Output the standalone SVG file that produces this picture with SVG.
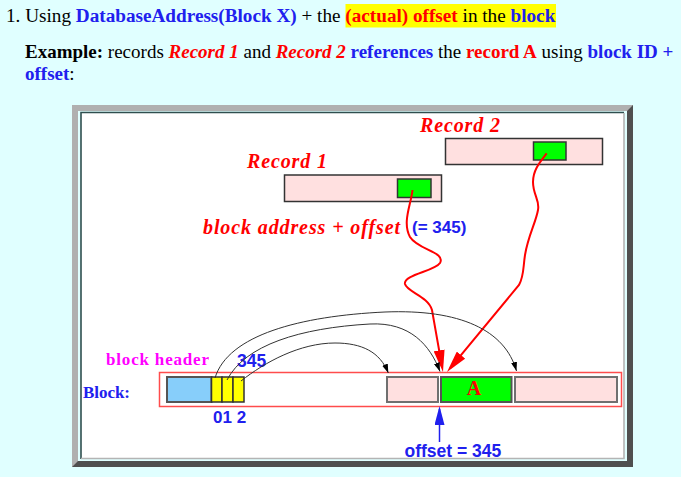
<svg xmlns="http://www.w3.org/2000/svg" width="681" height="477" viewBox="0 0 681 477">
<style>
.serif{font-family:"Liberation Serif","Times New Roman",serif}
.sans{font-family:"Liberation Sans",Arial,sans-serif;font-weight:bold}
.b{font-weight:bold}
.red{fill:#ff0000}
.blue{fill:#2020ee}
.rec{font-family:"Liberation Serif",serif;font-weight:bold;font-style:italic;fill:#ff0000;font-size:20px}
.cell{stroke:#555555;stroke-width:2}
.pink{fill:#ffe0e0}
.green{fill:#00ff00}
.rl{fill:none;stroke:#ff0000;stroke-width:2}
.bl{fill:none;stroke:#333333;stroke-width:1}
</style>
<defs>
<marker id="ahRed" markerUnits="userSpaceOnUse" markerWidth="22" markerHeight="11" refX="17" refY="5.5" orient="auto">
<path d="M0,0 L22,5.5 L0,11 z" fill="#ff0000"/>
</marker>
<marker id="ahBlack" markerUnits="userSpaceOnUse" markerWidth="9" markerHeight="6" refX="9" refY="3" orient="auto">
<path d="M0,0 L9,3 L0,6 z" fill="#000000"/>
</marker>
<marker id="ahBlue" markerUnits="userSpaceOnUse" markerWidth="19" markerHeight="10" refX="16" refY="5" orient="auto">
<path d="M0,0 L19,5 L0,10 z" fill="#2020ee"/>
</marker>
</defs>
<rect width="681" height="477" fill="#e0ffff"/>
<g id="heading" class="serif">
<rect x="345.5" y="4" width="210.5" height="23.5" fill="#ffff00"/>
<text x="6" y="22" font-size="19.2" fill="#000">1. Using <tspan class="b blue">DatabaseAddress(Block X)</tspan> + the <tspan class="b red">(actual) offset</tspan> in the <tspan class="b blue">block</tspan></text>
<text x="25" y="58" font-size="19" fill="#000"><tspan class="b">Example:</tspan> records <tspan class="b red" font-style="italic">Record 1</tspan> and <tspan class="b red" font-style="italic">Record 2</tspan> <tspan class="b blue">references</tspan> the <tspan class="b red">record A</tspan> using <tspan class="b blue">block ID +</tspan></text>
<text x="25" y="80" font-size="19" fill="#000"><tspan class="b blue">offset</tspan>:</text>
</g>
<g id="frame">
<rect x="72" y="105" width="561" height="362" fill="#4f4f4f"/>
<polygon points="72,105 633,105 627,111 78,111 78,461 72,467" fill="#b0b0b0"/>
<rect x="78" y="111" width="549" height="350" fill="#e0ffff"/>
<rect x="81" y="113" width="543" height="346" fill="#ffffff"/>
<path d="M81,459 V112.5 H624" fill="none" stroke="#2f4f4f" stroke-width="1.6"/>
<path d="M81,458.5 H624 V113" fill="none" stroke="#b4b4b4" stroke-width="1.6"/>
</g>
<g id="record1">
<rect x="284.5" y="175" width="157" height="26.5" class="pink" stroke="#333" stroke-width="1.5"/>
<rect x="397.5" y="179" width="33.5" height="18.5" class="green" stroke="#333" stroke-width="1.5"/>
<text x="247" y="168" class="rec" textLength="80" lengthAdjust="spacing">Record 1</text>
</g>
<g id="record2">
<rect x="445.5" y="138.5" width="157" height="26" class="pink" stroke="#333" stroke-width="1.5"/>
<rect x="533.5" y="142" width="32.5" height="18" class="green" stroke="#333" stroke-width="1.5"/>
<text x="420" y="131.5" class="rec" textLength="80" lengthAdjust="spacing">Record 2</text>
</g>
<g id="block">
<rect x="159.5" y="372.5" width="462" height="34" fill="none" stroke="#ff4c4c" stroke-width="1.5"/>
<rect x="167" y="377" width="44.5" height="25" fill="#87cefa" class="cell"/>
<rect x="211.5" y="377" width="10.5" height="25" fill="#ffff00" stroke="#333" stroke-width="1.5"/>
<rect x="222" y="377" width="11" height="25" fill="#ffff00" stroke="#333" stroke-width="1.5"/>
<rect x="233" y="377" width="11" height="25" fill="#ffff00" stroke="#333" stroke-width="1.5"/>
<rect x="387" y="377" width="51" height="25" class="pink" stroke="#707070" stroke-width="2"/>
<rect x="441" y="377" width="70.5" height="25" class="green cell"/>
<rect x="515" y="377" width="102" height="25" class="pink" stroke="#707070" stroke-width="2"/>
<text x="474" y="395" class="serif b red" font-size="20" text-anchor="middle">A</text>
</g>
<g id="labels">
<text x="83" y="397.5" class="serif b blue" font-size="17" textLength="47" lengthAdjust="spacing">Block:</text>
<text x="106" y="365" class="serif b" font-size="17" fill="#ff00ff" textLength="103" lengthAdjust="spacing">block header</text>
<text x="237" y="367" class="sans blue" font-size="17.5">345</text>
<text x="213" y="423" class="sans blue" font-size="17">01 2</text>
<text x="203" y="233.5" class="rec" textLength="197" lengthAdjust="spacing">block address + offset</text>
<text x="412" y="232.5" class="sans blue" font-size="17">(= 345)</text>
<text x="404.5" y="456.5" class="sans blue" font-size="17.5">offset = 345</text>
</g>
<g id="connectors">
<path class="rl" d="M412.5,190 C411,205 402,222 410,237 C418,250 446,252 440,263 C435,271 403,275 405,284 C407,292 428,296 432,310 L442.1,367.1" marker-end="url(#ahRed)"/>
<path class="rl" d="M546.7,153.3 C540,162 533,170 533,182 C533,195 540,200 538,210 C536,222 528,236 525,255 C523,268 524,276 519,285 L450.2,368.2" marker-end="url(#ahRed)"/>
<path class="bl" d="M215,378 C228,335 300,316 385,312 C460,309 505,330 516.5,371" marker-end="url(#ahBlack)"/>
<path class="bl" d="M227,380 C245,345 300,328 370,324 C410,322 430,345 440,371.5" marker-end="url(#ahBlack)"/>
<path class="bl" d="M241,381 C265,362 300,343 335,343 C362,343 380,352 388.3,373" marker-end="url(#ahBlack)"/>
<path d="M439.5,442 V409" fill="none" stroke="#2020ee" stroke-width="1.5" marker-end="url(#ahBlue)"/>
</g>
</svg>
